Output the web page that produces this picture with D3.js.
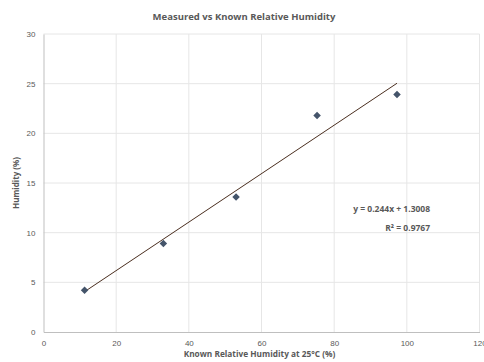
<!DOCTYPE html>
<html>
<head>
<meta charset="utf-8">
<script src="https://cdn.jsdelivr.net/npm/d3@7"></script>
<style>
  body { margin: 0; background: #fff; }
  svg { font-family: "Open Sans", "Liberation Sans", sans-serif; }
</style>
</head>
<body>
<svg id="chart"></svg>
<script>
var knownRH = [11.3, 33.0, 53.0, 75.3, 97.3];
var measuredRH = [4.2, 8.9, 13.6, 21.8, 23.9];
var xTicks = [0, 20, 40, 60, 80, 100, 120];
var yTicks = [0, 5, 10, 15, 20, 25, 30];
var slope = 0.244, intercept = 1.3008;
var equationLabel = "y = 0.244x + 1.3008";
var r2Label = "R² = 0.9767";

var width = 484, height = 362,
    margin = { left: 43.5, right: 4.5, top: 34, bottom: 30 },
    textColor = "#595959";

var svg = d3.select("svg#chart")
    .attr("width", width)
    .attr("height", height);

var x = d3.scaleLinear()
    .domain([0, 120])
    .range([margin.left, width - margin.right]);

var y = d3.scaleLinear()
    .domain([0, 30])
    .range([height - margin.bottom, margin.top]);

// gridlines
svg.append("g")
    .selectAll("line.vgrid")
    .data(xTicks.slice(1))
    .enter()
    .append("line")
        .attr("x1", function(d) { return x(d); })
        .attr("x2", function(d) { return x(d); })
        .attr("y1", y(0))
        .attr("y2", y(30))
        .style("stroke", "#e6e6e6")
        .style("stroke-width", 1);

svg.append("g")
    .selectAll("line.hgrid")
    .data(yTicks.slice(1))
    .enter()
    .append("line")
        .attr("x1", x(0))
        .attr("x2", x(120))
        .attr("y1", function(d) { return y(d); })
        .attr("y2", function(d) { return y(d); })
        .style("stroke", "#e6e6e6")
        .style("stroke-width", 1);

// axes
var xAxis = svg.append("g")
    .attr("transform", "translate(0," + y(0) + ")")
    .call(d3.axisBottom(x).tickValues(xTicks).tickSize(0).tickPadding(8));

var yAxis = svg.append("g")
    .attr("transform", "translate(" + x(0) + ",0)")
    .call(d3.axisLeft(y).tickValues(yTicks).tickSize(0).tickPadding(8));

[xAxis, yAxis].forEach(function(ax) {
    ax.select(".domain").style("stroke", "#bfbfbf");
    ax.selectAll("text")
        .style("fill", textColor)
        .style("font-size", "8px");
});

// trendline over data range
var xExt = d3.extent(knownRH);
svg.append("line")
    .attr("x1", x(xExt[0]))
    .attr("y1", y(slope * xExt[0] + intercept))
    .attr("x2", x(xExt[1]))
    .attr("y2", y(slope * xExt[1] + intercept))
    .style("stroke", "#4a2e1f")
    .style("stroke-width", 1);

// points
var diamond = d3.symbol().type(d3.symbolDiamond2).size(36);
svg.append("g")
    .selectAll("path.pt")
    .data(knownRH)
    .enter()
    .append("path")
        .attr("d", diamond)
        .attr("transform", function(d, i) {
            return "translate(" + [x(d), y(measuredRH[i])] + ")";
        })
        .style("fill", "#44546a");

// title and labels
svg.append("text")
    .attr("x", width / 2 + 2)
    .attr("y", 20)
    .attr("text-anchor", "middle")
    .style("font-size", "9.5px")
    .style("font-weight", "bold")
    .style("fill", textColor)
    .text("Measured vs Known Relative Humidity");

svg.append("text")
    .attr("x", 259.5)
    .attr("y", 357)
    .attr("text-anchor", "middle")
    .style("font-size", "8.3px")
    .style("font-weight", "bold")
    .style("fill", textColor)
    .text("Known Relative Humidity at 25°C  (%)");

svg.append("text")
    .attr("transform", "translate(19," + (y(15)) + ") rotate(-90)")
    .attr("text-anchor", "middle")
    .style("font-size", "8px")
    .style("font-weight", "bold")
    .style("fill", textColor)
    .text("Humidity (%)");

svg.append("text")
    .attr("x", x(106.4))
    .attr("y", y(12.08))
    .attr("text-anchor", "end")
    .style("font-size", "8.5px")
    .style("font-weight", "bold")
    .style("fill", textColor)
    .text(equationLabel);

svg.append("text")
    .attr("x", x(106.4))
    .attr("y", y(10.17))
    .attr("text-anchor", "end")
    .style("font-size", "8.5px")
    .style("font-weight", "bold")
    .style("fill", textColor)
    .text(r2Label);
</script>
</body>
</html>
